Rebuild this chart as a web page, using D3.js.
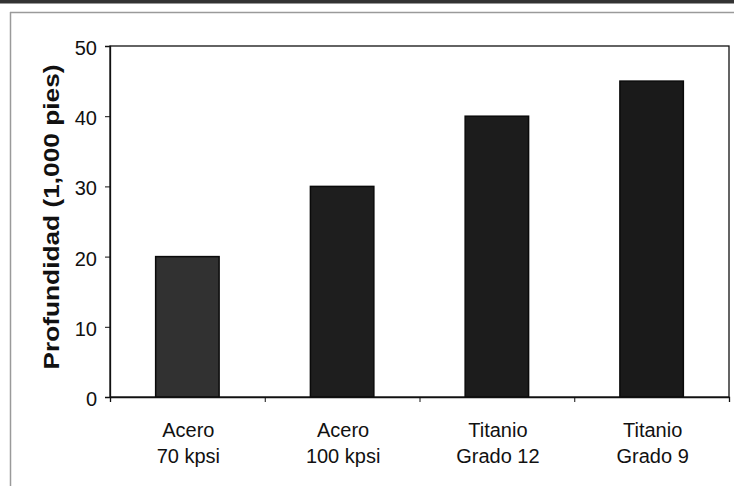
<!DOCTYPE html>
<html>
<head>
<meta charset="utf-8">
<script src="https://cdn.jsdelivr.net/npm/d3@7"></script>
<style>
  html, body { margin: 0; padding: 0; background: #fff; }
  svg { display: block; }
  text { font-family: Arial, "Liberation Sans", sans-serif; fill: #111; }
</style>
</head>
<body>
<svg id="chart" width="734" height="486"></svg>
<script>
const categoriesLine1 = ["Acero", "Acero", "Titanio", "Titanio"];
const categoriesLine2 = ["70 kpsi", "100 kpsi", "Grado 12", "Grado 9"];
const depthValues = [20, 30, 40, 45];
const yTicks = [0, 10, 20, 30, 40, 50];
const yTitle = "Profundidad (1,000 pies)";
const barFills = ["#313131", "#1e1e1e", "#1c1c1c", "#1a1a1a"];

const svg = d3.select("#chart");
const W = 734, H = 486;
const plot = { left: 110, right: 729, top: 46, bottom: 397 };
const FONT = "Arial, 'Liberation Sans', sans-serif";

// outer frame decorations
svg.append("rect").attr("x", 0).attr("y", 0).attr("width", W).attr("height", 3.5).attr("fill", "#333");
svg.append("line").attr("x1", 10).attr("x2", W).attr("y1", 12.5).attr("y2", 12.5)
  .attr("stroke", "#9a9a9a").attr("stroke-width", 1.5);
svg.append("line").attr("x1", 10.5).attr("x2", 10.5).attr("y1", 12).attr("y2", H)
  .attr("stroke", "#9a9a9a").attr("stroke-width", 1.5);

const idx = d3.range(depthValues.length);
const x = d3.scaleBand().domain(idx).range([plot.left, plot.right]).paddingInner(0.59).paddingOuter(0.295);
const y = d3.scaleLinear().domain([0, 50]).range([plot.bottom, plot.top]);

// plot border
svg.append("rect").attr("x", plot.left).attr("y", plot.top)
  .attr("width", plot.right - plot.left).attr("height", plot.bottom - plot.top)
  .attr("fill", "none").attr("stroke", "#111").attr("stroke-width", 1.3);

// bars
svg.append("g").selectAll("rect").data(idx).join("rect")
  .attr("x", i => x(i))
  .attr("y", i => y(depthValues[i]))
  .attr("width", x.bandwidth())
  .attr("height", i => y(0) - y(depthValues[i]))
  .attr("fill", i => barFills[i])
  .attr("stroke", "#0a0a0a")
  .attr("stroke-width", 1.5);

// y axis
const yAxis = d3.axisLeft(y).tickValues(yTicks).tickSize(5).tickPadding(8);
const gy = svg.append("g").attr("transform", `translate(${plot.left},0)`).call(yAxis);
gy.select(".domain").attr("stroke", "#111").attr("stroke-width", 1.3);
gy.selectAll(".tick line").attr("stroke", "#111");
gy.selectAll(".tick text").attr("font-size", 20).attr("fill", "#111").attr("dy", "0.42em")
  .style("font-family", FONT);

// x axis (ticks between categories)
const xBoundary = d3.scaleLinear().domain([0, depthValues.length]).range([plot.left, plot.right]);
const gx = svg.append("g").attr("transform", `translate(0,${plot.bottom})`)
  .call(d3.axisBottom(xBoundary).tickValues(d3.range(depthValues.length + 1)).tickSize(5).tickFormat(""));
gx.select(".domain").attr("stroke", "#111").attr("stroke-width", 1.3);
gx.selectAll(".tick line").attr("stroke", "#111");

// category labels
const labels = svg.append("g").selectAll("text").data(idx).join("text")
  .attr("text-anchor", "middle")
  .attr("font-size", 20)
  .style("font-family", FONT);
labels.append("tspan").attr("x", i => x(i) + x.bandwidth() / 2 + 1).attr("y", 437).text(i => categoriesLine1[i]);
labels.append("tspan").attr("x", i => x(i) + x.bandwidth() / 2 + 1).attr("y", 463).text(i => categoriesLine2[i]);

// y title
svg.append("text")
  .attr("transform", `translate(59,217) rotate(-90)`)
  .attr("text-anchor", "middle")
  .attr("font-size", 22)
  .attr("font-weight", "bold")
  .attr("textLength", 305)
  .attr("lengthAdjust", "spacingAndGlyphs")
  .style("font-family", FONT)
  .text(yTitle);
</script>
</body>
</html>
